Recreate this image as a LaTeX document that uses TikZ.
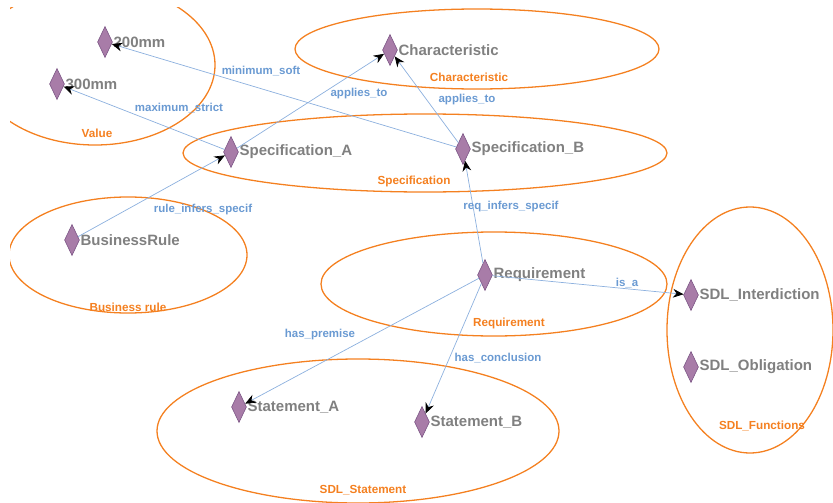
\documentclass[tikz,border=0pt]{standalone}
\usepackage{fontspec}
\setmainfont{Liberation Sans}
\usetikzlibrary{shapes.geometric,arrows.meta}
\definecolor{cGrp} {RGB}{244,128,32}
\definecolor{cInd} {RGB}{168,124,168}
\definecolor{cIndB}{RGB}{122,84,132}
\definecolor{cName}{RGB}{128,128,128}
\definecolor{cRel} {RGB}{106,154,210}
\definecolor{cLink}{RGB}{140,176,222}

\begin{document}
\begin{tikzpicture}[x=0.03cm, y=-0.03cm]

%% ── shared styles ─────────────────────────────────────────────────────────
\tikzset{
  grp/.style={draw=cGrp, line width=1.1pt},
  glbl/.style={
    font=\fontsize{10}{11}\selectfont\bfseries, text=cGrp, inner sep=1pt
  },
  ind/.style={
    diamond, draw=cIndB, fill=cInd, line width=0.5pt,
    minimum width=0.45cm, minimum height=0.93cm, inner sep=0pt,
    label={[nlbl]right:#1}
  },
  nlbl/.style={
    font=\fontsize{12.8}{14}\selectfont\bfseries, text=cName,
    inner sep=0.5pt, label distance=0pt
  },
  rlbl/.style={
    font=\fontsize{9.8}{11}\selectfont\bfseries, text=cRel, inner sep=1pt
  },
  rel/.style={-{Stealth[black, length=9pt, width=7.5pt, inset=3pt]},
    draw=cLink, line width=0.6pt},
}

\useasboundingbox (0,0) rectangle (833,503);
\clip (10,7) rectangle (833,503);

%% ── groups ────────────────────────────────────────────────────────────────
\draw[grp] (95,65)   ellipse [x radius=120, y radius=80];
\draw[grp] (477,49)  ellipse [x radius=182, y radius=40];
\draw[grp] (425,153) ellipse [x radius=242, y radius=39];
\draw[grp] (128,255) ellipse [x radius=119, y radius=58];
\draw[grp] (494,284) ellipse [x radius=173, y radius=52];
\draw[grp] (750,330) ellipse [x radius=83,  y radius=123];
\draw[grp] (358,431) ellipse [x radius=201, y radius=72];

\node[glbl] (gVal)  at (97,133)  {Value};
\node[glbl] (gChar) at (469,77)  {Characteristic};
\node[glbl] (gSpec) at (414,181) {Specification};
\node[glbl] (gBR)   at (128,307) {Business rule};
\node[glbl] (gReq)  at (509,323) {Requirement};
\node[glbl] (gFun)  at (762,426) {SDL\_Functions};
\node[glbl] (gStm)  at (363,490) {SDL\_Statement};

%% ── individuals ───────────────────────────────────────────────────────────
\node[ind=200mm]             (iV200)  at (105,42)  {};
\node[ind=300mm]             (iV300)  at (57,84)   {};
\node[ind=Characteristic]    (iChar)  at (390,50)  {};
\node[ind=Specification\_A]  (iSpecA) at (231,152) {};
\node[ind=Specification\_B]  (iSpecB) at (463,149) {};
\node[ind=BusinessRule]      (iBR)    at (72,240)  {};
\node[ind=Requirement]       (iReq)   at (485,275) {};
\node[ind=SDL\_Interdiction] (iInt)   at (691,295) {};
\node[ind=SDL\_Obligation]   (iObl)   at (691,367) {};
\node[ind=Statement\_A]      (iStA)   at (239,407) {};
\node[ind=Statement\_B]      (iStB)   at (422,422) {};

%% ── relations ─────────────────────────────────────────────────────────────
\draw[rel] (iSpecB) -- (iV200);
\draw[rel] (iSpecA) -- (iV300);
\draw[rel] (iSpecA) -- (iChar);
\draw[rel] (iSpecB) -- (iChar);
\draw[rel] (iBR)    -- (iSpecA);
\draw[rel] (iReq)   -- (iSpecB);
\draw[rel] (iReq)   -- (iInt);
\draw[rel] (iReq)   -- (iStA);
\draw[rel] (iReq)   -- (iStB);

\node[rlbl] (rMin)  at (261,71)  {minimum\_soft};
\node[rlbl] (rMax)  at (179,108) {maximum\_strict};
\node[rlbl] (rAppA) at (359,94)  {applies\_to};
\node[rlbl] (rAppB) at (467,100) {applies\_to};
\node[rlbl] (rRule) at (203,210) {rule\_infers\_specif};
\node[rlbl] (rReq)  at (511,207) {req\_infers\_specif};
\node[rlbl] (rIsA)  at (627,283) {is\_a};
\node[rlbl] (rPrem) at (320,335) {has\_premise};
\node[rlbl] (rConc) at (498,358) {has\_conclusion};

\end{tikzpicture}
\end{document}
